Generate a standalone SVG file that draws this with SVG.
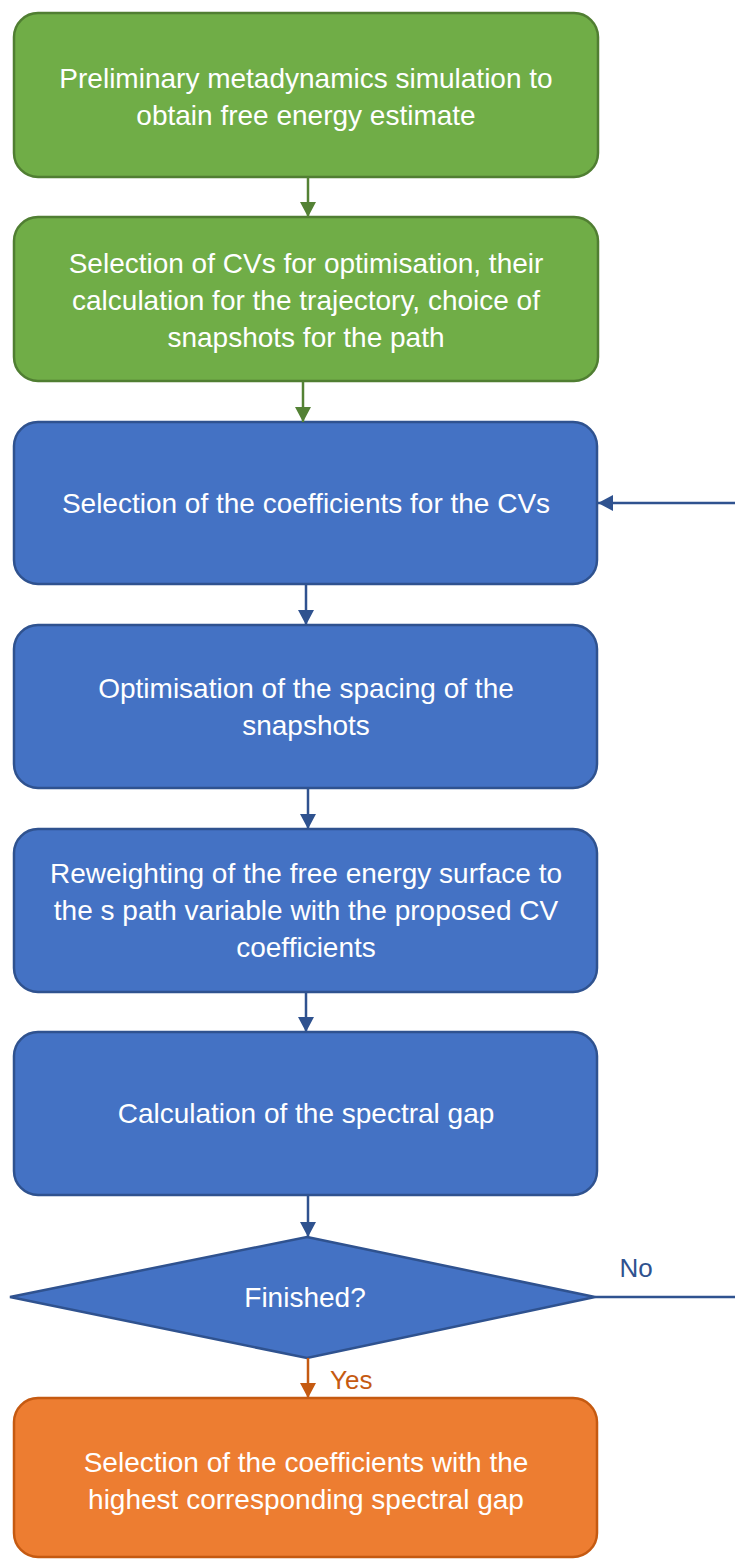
<svg xmlns="http://www.w3.org/2000/svg" width="735" height="1559" viewBox="0 0 735 1559">
<style>
  .t { font-family: "Liberation Sans", Arial, sans-serif; font-size: 28px; fill: #ffffff; text-anchor: middle; }
  .green { fill: #70AD47; stroke: #507E32; stroke-width: 2.5; }
  .blue { fill: #4472C4; stroke: #2F528F; stroke-width: 2.5; }
  .orange { fill: #ED7D31; stroke: #C55A11; stroke-width: 2.5; }
  .cg { stroke: #548235; stroke-width: 2.5; fill: none; }
  .cb { stroke: #2F528F; stroke-width: 2.5; fill: none; }
  .co { stroke: #C55A11; stroke-width: 2.5; fill: none; }
  .lbl { font-family: "Liberation Sans", Arial, sans-serif; font-size: 26px; }
</style>
<defs>
  <marker id="ag" viewBox="0 0 15 16" refX="15" refY="8" markerWidth="15" markerHeight="16" markerUnits="userSpaceOnUse" orient="auto"><path d="M0,0 L15,8 L0,16 z" fill="#548235"/></marker>
  <marker id="ab" viewBox="0 0 15 16" refX="15" refY="8" markerWidth="15" markerHeight="16" markerUnits="userSpaceOnUse" orient="auto"><path d="M0,0 L15,8 L0,16 z" fill="#2F528F"/></marker>
  <marker id="ao" viewBox="0 0 15 16" refX="15" refY="8" markerWidth="15" markerHeight="16" markerUnits="userSpaceOnUse" orient="auto"><path d="M0,0 L15,8 L0,16 z" fill="#C55A11"/></marker>
</defs>

<g id="n1">
  <rect class="green" x="14" y="13" width="584" height="164" rx="24"/>
  <text class="t" x="306" y="88">Preliminary metadynamics simulation to</text>
  <text class="t" x="306" y="125">obtain free energy estimate</text>
</g>
<g id="n2">
  <rect class="green" x="14" y="217" width="584" height="164" rx="24"/>
  <text class="t" x="306" y="273">Selection of CVs for optimisation, their</text>
  <text class="t" x="306" y="310">calculation for the trajectory, choice of</text>
  <text class="t" x="306" y="347">snapshots for the path</text>
</g>
<g id="n3">
  <rect class="blue" x="14" y="422" width="583" height="162" rx="24"/>
  <text class="t" x="306" y="513">Selection of the coefficients for the CVs</text>
</g>
<g id="n4">
  <rect class="blue" x="14" y="625" width="583" height="163" rx="24"/>
  <text class="t" x="306" y="698">Optimisation of the spacing of the</text>
  <text class="t" x="306" y="735">snapshots</text>
</g>
<g id="n5">
  <rect class="blue" x="14" y="829" width="583" height="163" rx="24"/>
  <text class="t" x="306" y="883">Reweighting of the free energy surface to</text>
  <text class="t" x="306" y="920">the s path variable with the proposed CV</text>
  <text class="t" x="306" y="957">coefficients</text>
</g>
<g id="n6">
  <rect class="blue" x="14" y="1032" width="583" height="163" rx="24"/>
  <text class="t" x="306" y="1123">Calculation of the spectral gap</text>
</g>
<g id="n7">
  <polygon class="blue" points="307,1237 595,1297 307,1358 10,1297"/>
  <text class="t" x="305" y="1307">Finished?</text>
</g>
<g id="n8">
  <rect class="orange" x="14" y="1398" width="583" height="159" rx="24"/>
  <text class="t" x="306" y="1472">Selection of the coefficients with the</text>
  <text class="t" x="306" y="1509">highest corresponding spectral gap</text>
</g>

<g id="connectors">
  <line class="cg" x1="308" y1="177" x2="308" y2="217" marker-end="url(#ag)"/>
  <line class="cg" x1="303" y1="381" x2="303" y2="422" marker-end="url(#ag)"/>
  <line class="cb" x1="306" y1="584" x2="306" y2="625" marker-end="url(#ab)"/>
  <line class="cb" x1="308" y1="788" x2="308" y2="829" marker-end="url(#ab)"/>
  <line class="cb" x1="306" y1="992" x2="306" y2="1032" marker-end="url(#ab)"/>
  <line class="cb" x1="308" y1="1195" x2="308" y2="1237" marker-end="url(#ab)"/>
  <line class="co" x1="308" y1="1358" x2="308" y2="1398" marker-end="url(#ao)"/>
  <line class="cb" x1="595" y1="1297" x2="740" y2="1297"/>
  <line class="cb" x1="740" y1="503" x2="598" y2="503" marker-end="url(#ab)"/>
  <text class="lbl" x="636" y="1277" fill="#2F528F" text-anchor="middle">No</text>
  <text class="lbl" x="330" y="1389" fill="#C55A11">Yes</text>
</g>
</svg>
